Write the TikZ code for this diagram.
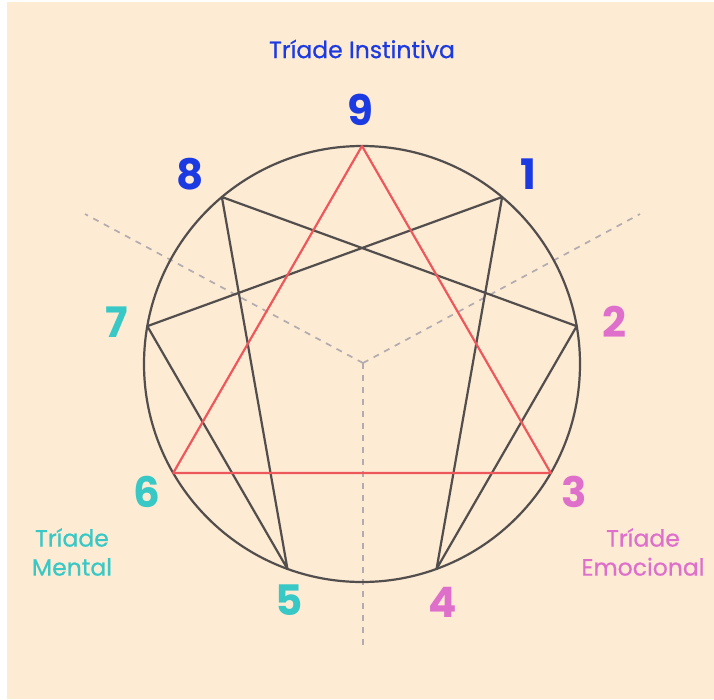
\documentclass[tikz,border=0pt]{standalone}
\usepackage{fontspec}
\setmainfont{Poppins}
\newfontfamily\medfont[FakeBold=0.7]{Poppins}
\usetikzlibrary{calc}
\definecolor{bg}{RGB}{253,235,211}
\definecolor{blueT}{RGB}{28,58,226}
\definecolor{tealT}{RGB}{56,200,198}
\definecolor{pinkT}{RGB}{222,112,204}
\definecolor{ringC}{RGB}{82,78,78}
\definecolor{triC}{RGB}{236,88,92}
\definecolor{dashC}{RGB}{178,172,176}
\tikzset{
  num/.style={font=\fontsize{42}{42}\selectfont\bfseries, inner sep=0pt},
  triad/.style={font=\medfont\fontsize{23.5}{29}\selectfont, align=center, inner sep=0pt},
  ring/.style={draw=ringC, line width=2.2pt},
  hexline/.style={draw=ringC, line width=2.2pt, line join=round},
  triline/.style={draw=triC, line width=2.2pt, line join=round},
  divider/.style={draw=dashC, line width=1.7pt, dash pattern=on 6pt off 6pt},
}
\begin{document}
\begin{tikzpicture}[x=1pt,y=-1pt]
\useasboundingbox (0,0) rectangle (714,699);
\fill[white] (0,0) rectangle (714,699);
\fill[bg] (7,2) rectangle (714,699);

\coordinate (c) at (362,364);
\foreach \k in {0,...,8}{
  \coordinate (p\k) at ({362+218*sin(40*\k)},{364-218*cos(40*\k)});
}

% dividers
\coordinate (d0) at (363,363);
\coordinate (dl) at (85,214);
\coordinate (dr) at (640,214);
\coordinate (db) at (363,645);
\draw[divider] (d0) -- (dl);
\draw[divider] (d0) -- (dr);
\draw[divider] (d0) -- (db);

% circle
\draw[ring] (c) circle (218);

% hexad 1-4-2-8-5-7-1
\draw[hexline] (p1) -- (p4) -- (p2) -- (p8) -- (p5) -- (p7) -- cycle;

% triangle 9-3-6
\draw[triline] (p0) -- (p3) -- (p6) -- cycle;

% numbers
\node[num, text=blueT] (n9) at (360,110) {9};
\node[num, text=blueT] (n1) at (528,174) {1};
\node[num, text=pinkT] (n2) at (614,322) {2};
\node[num, text=pinkT] (n3) at (574,492) {3};
\node[num, text=pinkT] (n4) at (443,602) {4};
\node[num, text=tealT] (n5) at (289,600) {5};
\node[num, text=tealT] (n6) at (147,492) {6};
\node[num, text=tealT] (n7) at (117,322) {7};
\node[num, text=blueT] (n8) at (190,174) {8};

% triad labels
\node[triad, text=blueT] (ti) at (362,49) {Tríade Instintiva};
\node[triad, text=tealT] (tm) at (72,552) {Tríade\\Mental};
\node[triad, text=pinkT] (te) at (643,552) {Tríade\\Emocional};
\end{tikzpicture}
\end{document}
